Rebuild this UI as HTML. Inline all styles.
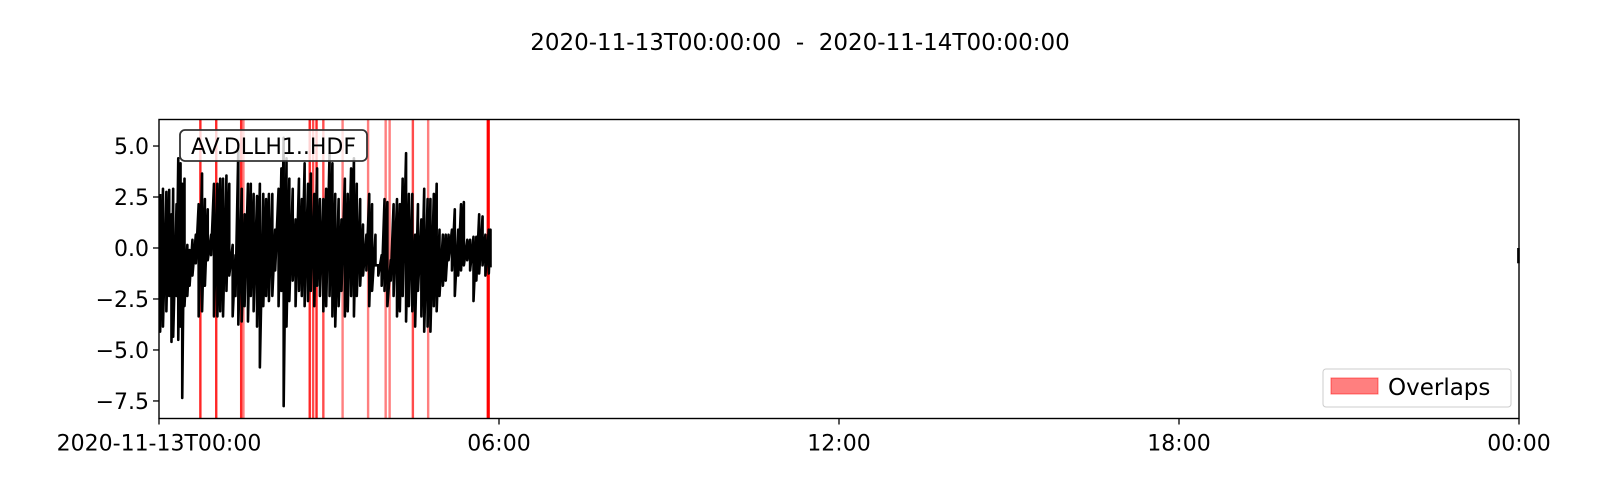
<!DOCTYPE html>
<html><head><meta charset="utf-8"><style>
html,body{margin:0;padding:0;background:#fff;overflow:hidden;width:1600px;height:500px;}
svg{display:block;font-family:"DejaVu Sans","Liberation Sans",sans-serif;}
</style></head><body>
<svg id="chart" width="1600" height="500" viewBox="0 0 1600 500" xmlns="http://www.w3.org/2000/svg">
<rect width="1600" height="500" fill="#fff"/>
<text x="800" y="50" font-size="23" text-anchor="middle" xml:space="preserve">2020-11-13T00:00:00  -  2020-11-14T00:00:00</text>
<g id="overlaps"></g>
<g id="trace"></g>
<rect x="159" y="119.5" width="1360" height="299" fill="none" stroke="#000" stroke-width="1.4"/>
<g id="axes"></g>
<g>
<rect x="180" y="130" width="187" height="31" rx="5" fill="#fff" fill-opacity="0.8" stroke="#333" stroke-width="1.8"/>
<text x="273.5" y="154" font-size="22" text-anchor="middle">AV.DLLH1..HDF</text>
</g>
<g>
<rect x="1323" y="369" width="188" height="38" rx="3" fill="#fff" fill-opacity="0.8" stroke="#ccc" stroke-width="1"/>
<rect x="1331" y="378" width="47" height="16" fill="#ff0000" fill-opacity="0.5" stroke="#ff0000" stroke-opacity="0.5"/>
<text x="1388" y="395" font-size="23">Overlaps</text>
</g>
</svg>
<script>
const hours=[0.02,0.07,0.13,0.18,0.22,0.25,0.31,0.34,0.38,0.41,0.45,0.50,0.54,0.59,0.65,0.70,0.76,0.81,0.86,0.92,0.97,1.03,1.08,1.13,1.19,1.24,1.30,1.35,1.40,1.46,1.51,1.57,1.62,1.67,1.73,1.78,1.84,1.89,1.94,2.00,2.05,2.11,2.16,2.20,2.25,2.30,2.36,2.41,2.47,2.52,2.57,2.63,2.68,2.74,2.79,2.84,2.90,2.95,3.01,3.06,3.11,3.17,3.22,3.28,3.33,3.39,3.44,3.49,3.55,3.60,3.66,3.71,3.76,3.82,3.87,3.93,3.98,4.03,4.09,4.14,4.20,4.25,4.30,4.36,4.41,4.47,4.52,4.57,4.63,4.68,4.74,4.79,4.85,4.90,4.95,5.01,5.06,5.11,5.17,5.22,5.28,5.33,5.38,5.44,5.49,5.55,5.60,5.65,5.71,5.76,5.82,5.85];
const maxVals=[2.65,2.9,2.75,2.85,1.65,2.9,2.15,4.4,4.15,3.15,3.4,0.15,-0.1,0.4,0.65,2.15,3.65,2.4,1.9,0.65,3.15,3.15,3.4,3.4,3.55,3.15,0.15,-0.35,4.9,2.9,1.65,3.15,3.15,2.65,2.55,3.15,2.65,2.4,2.65,2.65,0.9,2.9,3.9,5.4,4.4,3.4,2.9,1.4,3.4,2.4,4.15,3.15,3.65,2.65,3.9,2.4,2.4,2.9,4.65,4.15,2.65,2.4,1.4,3.4,2.65,3.9,4.4,3.15,2.4,1.15,0.65,2.65,2.15,0.65,-0.85,-0.35,2.4,2.25,-0.6,2.15,2.4,2.15,3.4,4.65,2.65,2.65,0.65,2.15,1.4,2.9,2.4,2.4,2.65,3.15,0.9,0.65,0.65,0.65,0.9,1.9,0.9,2.15,2.25,0.4,0.4,0.55,0.55,1.65,1.55,0.65,0.9,0.9];
const minVals=[-4.1,-3.85,-3.1,-2.35,-4.6,-4.35,-2.35,-4.5,-3.85,-7.35,-2.85,-2.35,-1.85,-1.35,-0.75,-3.35,-3.1,-1.85,-0.6,-0.35,-3.35,-3.35,-3.1,-3.35,-2.1,-1.35,-3.35,-2.35,-3.75,-3.6,-2.85,-3.6,-2.35,-3.1,-3.85,-5.85,-2.85,-2.35,-2.6,-2.35,-1.1,-2.85,-2.1,-7.75,-3.85,-2.6,-1.6,-2.85,-2.1,-2.35,-2.85,-2.6,-2.1,-2.85,-1.85,-2.35,-3.1,-2.85,-2.35,-3.35,-3.85,-2.85,-2.1,-3.35,-3.1,-2.35,-3.35,-2.35,-1.85,-1.35,-1.1,-2.85,-2.1,-0.85,-1.35,-1.85,-2.1,-2.85,-1.6,-2.35,-3.35,-3.1,-2.35,-3.6,-2.85,-3.1,-3.85,-2.1,-3.35,-4.1,-3.85,-4.1,-2.85,-3.1,-2.35,-1.85,-1.6,-0.6,-1.1,-2.35,-1.35,-1.1,-0.85,-0.6,-1.1,-2.6,-1.6,-1.25,-0.85,-1.35,-1.25,-0.95];
const tailHour=[23.99];
const tailMax=[0.0];
const tailMin=[-0.75];
const overlapHours=[0.73,1.01,1.45,1.49,2.66,2.72,2.78,2.90,3.24,3.69,4.00,4.07,4.48,4.75,5.81];
const overlapAlpha=[0.85,0.85,0.85,0.5,0.85,0.7,0.85,0.7,0.5,0.5,0.5,0.5,0.7,0.5,1.0];
const yTicks=[5.0,2.5,0.0,-2.5,-5.0,-7.5];
const xTicks=[0,6,12,18,24];
const xTickLabels=["2020-11-13T00:00","06:00","12:00","18:00","00:00"];
const X0=159,X1=1519,Y0=119.5,Y1=418.5,YMIN=-8.36,YMAX=6.3;
const NS="http://www.w3.org/2000/svg";
function xs(h){return X0+(X1-X0)*h/24;}
function ys(v){return Y1-(Y1-Y0)*(v-YMIN)/(YMAX-YMIN);}
function mk(tag,attrs,parent){const e=document.createElementNS(NS,tag);for(const k in attrs)e.setAttribute(k,attrs[k]);parent.appendChild(e);return e;}
const ov=document.getElementById('overlaps');
overlapHours.forEach((h,i)=>{
  const l=mk('line',{x1:xs(h),x2:xs(h),y1:Y0,y2:Y1,stroke:'#ff0000','stroke-width':overlapAlpha[i]>=1?3.2:2.4,'stroke-opacity':overlapAlpha[i]},ov);
  
  
});
const tr=document.getElementById('trace');
let pts=[];
hours.forEach((h,i)=>{pts.push(xs(h)+','+ys(maxVals[i]));pts.push(xs(h)+','+ys(minVals[i]));});
const pl=mk('polyline',{points:pts.join(' '),fill:'none',stroke:'#000','stroke-width':2.6,'stroke-linejoin':'round'},tr);


tailHour.forEach((h,i)=>{
  const t=mk('line',{x1:xs(h),x2:xs(h),y1:ys(tailMax[i]),y2:ys(tailMin[i]),stroke:'#000','stroke-width':2.6},tr);
  
  
});
const ax=document.getElementById('axes');
yTicks.forEach(v=>{
  const y=ys(v);
  const t=mk('line',{x1:X0-6,x2:X0,y1:y,y2:y,stroke:'#000','stroke-width':1.3},ax);
  
  
  const tx=mk('text',{x:X0-10,y:y+8,'font-size':22,'text-anchor':'end'},ax);
  tx.textContent=(v<0?'\u2212':'')+Math.abs(v).toFixed(1);
  
  
});
xTicks.forEach((h,i)=>{
  const x=xs(h);
  const t=mk('line',{x1:x,x2:x,y1:Y1,y2:Y1+6,stroke:'#000','stroke-width':1.3},ax);
  
  
  const tx=mk('text',{x:x,y:Y1+32,'font-size':22,'text-anchor':'middle'},ax);
  tx.textContent=xTickLabels[i];
  
  
});
</script>
</body></html>
